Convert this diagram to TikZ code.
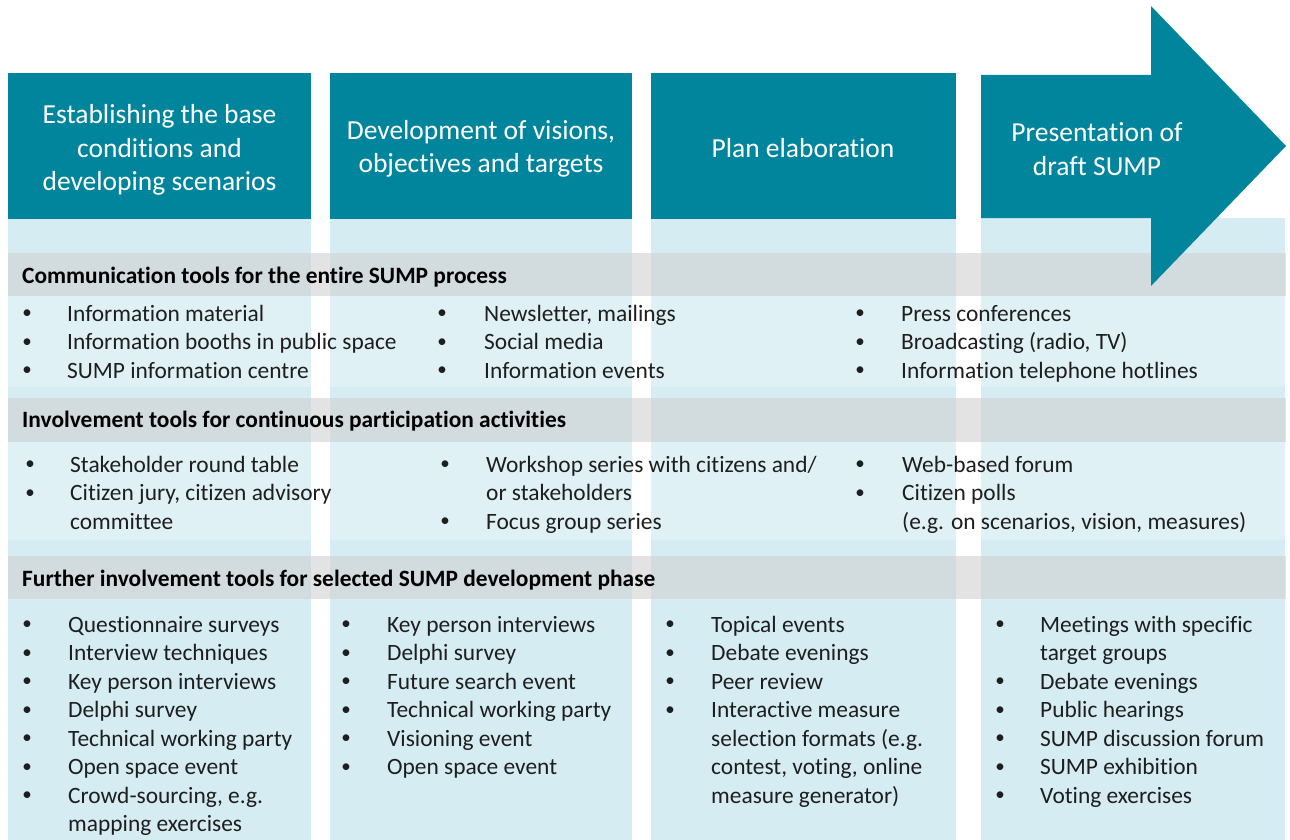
\documentclass[tikz,border=0pt]{standalone}
\usepackage{fontspec}
\setmainfont{Carlito}[Ligatures=NoCommon]
\definecolor{teal}{RGB}{0,133,157}
\definecolor{lightband}{RGB}{213,236,242}
\definecolor{bandgray}{RGB}{209,209,209}
\definecolor{txtdark}{RGB}{30,30,30}
\tikzset{
  hdrbox/.style={fill=teal, draw=none},
  colband/.style={fill=lightband, draw=none},
  rowlight/.style={fill=white, fill opacity=0.28, draw=none},
  grayband/.style={fill=bandgray, fill opacity=0.6, draw=none},
  hdrtext/.style={text=white, align=center, inner sep=0pt, font=\fontsize{27.5}{33.5}\selectfont},
  bandtext/.style={anchor=base west, inner sep=0pt, text=black, font=\bfseries\fontsize{23.4}{28.5}\selectfont},
  txt/.style={anchor=base west, inner sep=0pt, text=txtdark, font=\fontsize{23.4}{28.5}\selectfont},
  bul/.style={anchor=base, inner sep=0pt, text=txtdark, font=\fontsize{19}{23}\selectfont},
}
% #1 name prefix, #2 bullet x, #3 text x, #4 first baseline y, #5 list of flag/text
\newcommand\itemcol[5]{%
  \foreach [count=\i from 0] \fl/\tx in {#5} {
    \node[txt] (#1t\i) at (#3, #4+\i*28.5) {\tx};
    \ifnum\fl=1 \node[bul] (#1b\i) at (#2, #4+\i*28.5-2.5) {•};\fi
  }%
}
\begin{document}
\begin{tikzpicture}[x=1pt, y=-1pt]
\useasboundingbox (0,0) rectangle (1290,840);
% light column bands
\fill[colband] (8,219) rectangle (311,840);
\fill[colband] (330,219) rectangle (632,840);
\fill[colband] (651,219) rectangle (956,840);
\fill[colband] (981,218) rectangle (1285,840);
% lighter row overlays
\fill[rowlight] (8,296) rectangle (1285,387);
\fill[rowlight] (8,442) rectangle (1285,540);
% gray bands
\fill[grayband] (8,253) rectangle (1286,296);
\fill[grayband] (8,398) rectangle (1286,442);
\fill[grayband] (8,556) rectangle (1286,599);
% header boxes
\fill[hdrbox] (8,73) rectangle (311,219);
\fill[hdrbox] (330,73) rectangle (632,219);
\fill[hdrbox] (651,73) rectangle (956,219);
\fill[hdrbox] (981,75) -- (1151,75) -- (1151,6) -- (1286,146) -- (1151,286) -- (1151,218) -- (981,218) -- cycle;
% header texts
\node[hdrtext] (h1) at (159.5,150) {Establishing the base\\conditions and\\developing scenarios};
\node[hdrtext] (h2) at (481,149) {Development of visions,\\objectives and targets};
\node[hdrtext] (h3) at (803,148) {Plan elaboration};
\node[hdrtext] (h4) at (1097,149) {Presentation of\\draft SUMP};
% band headings
\node[bandtext] (g1) at (22,283) {Communication tools for the entire SUMP process};
\node[bandtext] (g2) at (22,427) {Involvement tools for continuous participation activities};
\node[bandtext] (g3) at (22,586) {Further involvement tools for selected SUMP development phase};
% row 1
\itemcol{a1}{27}{67}{321}{1/{Information material},1/{Information booths in public space},1/{SUMP information centre}}
\itemcol{a2}{442}{484}{321}{1/{Newsletter, mailings},1/{Social media},1/{Information events}}
\itemcol{a3}{860}{901}{321}{1/{Press conferences},1/{Broadcasting (radio, TV)},1/{Information telephone hotlines}}
% row 2
\itemcol{b1}{30}{70}{472}{1/{Stakeholder round table},1/{Citizen jury, citizen advisory},0/{committee}}
\itemcol{b2}{445}{486}{472}{1/{Workshop series with citizens and/},0/{or stakeholders},1/{Focus group series}}
\itemcol{b3}{860}{902}{472}{1/{Web-based forum},1/{Citizen polls},0/{(e.g. on scenarios, vision, measures)}}
% row 3
\itemcol{c1}{27}{68}{632}{1/{Questionnaire surveys},1/{Interview techniques},1/{Key person interviews},1/{Delphi survey},1/{Technical working party},1/{Open space event},1/{Crowd-sourcing, e.g.},0/{mapping exercises}}
\itemcol{c2}{346}{387}{632}{1/{Key person interviews},1/{Delphi survey},1/{Future search event},1/{Technical working party},1/{Visioning event},1/{Open space event}}
\itemcol{c3}{670}{711}{632}{1/{Topical events},1/{Debate evenings},1/{Peer review},1/{Interactive measure},0/{selection formats (e.g.},0/{contest, voting, online},0/{measure generator)}}
\itemcol{c4}{1000}{1040}{632}{1/{Meetings with specific},0/{target groups},1/{Debate evenings},1/{Public hearings},1/{SUMP discussion forum},1/{SUMP exhibition},1/{Voting exercises}}
\end{tikzpicture}
\end{document}
